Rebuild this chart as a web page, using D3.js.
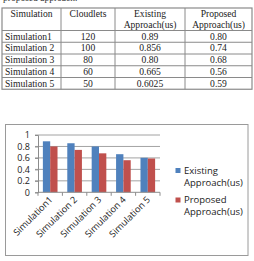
<!DOCTYPE html>
<html><head><meta charset="utf-8">
<script src="https://cdn.jsdelivr.net/npm/d3@7"></script>
<style>body{margin:0;background:#fff}svg{display:block}</style>
</head><body>
<script>
const simulations = ["Simulation1","Simulation 2","Simulation 3","Simulation 4","Simulation 5"];
const cloudlets = ["120","100","80","60","50"];
const existingText = ["0.89","0.856","0.80","0.665","0.6025"];
const proposedText = ["0.80","0.74","0.68","0.56","0.59"];
const existing = [0.89,0.856,0.80,0.665,0.6025];
const proposed = [0.80,0.74,0.68,0.56,0.59];
const seriesNames = ["Existing Approach(us)","Proposed Approach(us)"];
const yTicks = [0,0.2,0.4,0.6,0.8,1];
const headers = [["Simulation"],["Cloudlets"],["Existing","Approach(us)"],["Proposed","Approach(us)"]];

const W=254,H=261;
const svg=d3.select("body").append("svg").attr("width",W).attr("height",H);

// cut-off caption at top (only the bottom sliver is visible)
svg.append("text").attr("x",3).attr("y",0.8).attr("font-family","Liberation Serif").attr("font-size",9.5).attr("fill","#333").text("proposed approach.");

// ---- table ----
const colX=[2,61,115,185,252];
const tTop=8, headH=22.5, rowH=11.75;
const tg=svg.append("g");
const rowY=d3.range(simulations.length+1).map(i=>tTop+headH+i*rowH);
const lineC="#8a8a8a";
tg.append("rect").attr("x",colX[0]).attr("y",tTop).attr("width",colX[4]-colX[0]).attr("height",rowY[rowY.length-1]-tTop).attr("fill","none").attr("stroke",lineC).attr("stroke-width",1.2);
colX.slice(1,4).forEach(x=>tg.append("line").attr("x1",x).attr("x2",x).attr("y1",tTop).attr("y2",rowY[rowY.length-1]).attr("stroke",lineC));
rowY.slice(0,-1).forEach(y=>tg.append("line").attr("x1",colX[0]).attr("x2",colX[4]).attr("y1",y).attr("y2",y).attr("stroke",lineC));
const tf={"font-family":"Liberation Serif","font-size":9.6,"fill":"#222"};
headers.forEach((h,i)=>{
  const cx=(colX[i]+colX[i+1])/2;
  h.forEach((s,j)=>{
    const t=tg.append("text").attr("x",cx).attr("y",tTop+9+j*11).attr("text-anchor","middle").text(s);
    Object.entries(tf).forEach(([k,v])=>t.attr(k,v));
  });
});
simulations.forEach((s,r)=>{
  const y=rowY[r]+rowH/2+3.3;
  const cells=[s,cloudlets[r],existingText[r],proposedText[r]];
  cells.forEach((c,i)=>{
    const t=tg.append("text").attr("y",y).text(c);
    if(i===0) t.attr("x",colX[0]+3).attr("text-anchor","start");
    else t.attr("x",(colX[i]+colX[i+1])/2).attr("text-anchor","middle");
    Object.entries(tf).forEach(([k,v])=>t.attr(k,v));
  });
});

// ---- chart ----
svg.append("rect").attr("x",5.5).attr("y",124.5).attr("width",242.5).attr("height",131).attr("fill","#fff").attr("stroke","#9a9a9a").attr("stroke-width",1);
const x0=38, x1=160, yTop=135, yBot=192.3;
const x=d3.scaleBand().domain(simulations).range([x0,x1]).paddingInner(0.4).paddingOuter(0.2);
const xs=d3.scaleBand().domain([0,1]).range([0,x.bandwidth()]);
const y=d3.scaleLinear().domain([0,1]).range([yBot,yTop]);
const cf="Open Sans";
const g=svg.append("g");
// gridlines
g.selectAll(".grid").data(yTicks.filter(d=>d>0)).join("line").attr("x1",x0-3).attr("x2",x1).attr("y1",d=>y(d)).attr("y2",d=>y(d)).attr("stroke","#8c8c8c").attr("stroke-width",0.8);
// y axis
const ya=d3.axisLeft(y).tickValues(yTicks).tickSize(3).tickFormat(d=>d3.format("")(d));
const yag=g.append("g").attr("transform",`translate(${x0},0)`).call(ya);
yag.select(".domain").attr("stroke","#8c8c8c");
yag.selectAll(".tick line").attr("stroke","#8c8c8c");
yag.selectAll("text").attr("font-family",cf).attr("font-size",9).attr("fill","#222").attr("dx",-2);
// bars
const colors=["#4f81bd","#c0504d"];
const data=simulations.map((s,i)=>({s,vals:[existing[i],proposed[i]]}));
const gg=g.selectAll(".grp").data(data).join("g").attr("transform",d=>`translate(${x(d.s)},0)`);
gg.selectAll("rect").data(d=>d.vals.map((v,k)=>({v,k}))).join("rect")
  .attr("x",d=>xs(d.k)).attr("width",xs.bandwidth()).attr("y",d=>y(d.v)).attr("height",d=>yBot-y(d.v)).attr("fill",d=>colors[d.k]);
// x axis
const step=(x1-x0)/simulations.length;
g.append("line").attr("x1",x0).attr("x2",x1).attr("y1",yBot).attr("y2",yBot).attr("stroke","#8c8c8c");
d3.range(simulations.length+1).forEach(i=>g.append("line").attr("x1",x0+i*step).attr("x2",x0+i*step).attr("y1",yBot).attr("y2",yBot+3.5).attr("stroke","#8c8c8c"));
g.selectAll(".xl").data(simulations).join("text")
  .attr("transform",(d,i)=>`translate(${x0+(i+0.5)*step+3},${yBot+8}) rotate(-45)`)
  .attr("text-anchor","end").attr("font-family",cf).attr("font-size",9.2).attr("fill","#222").text(d=>d);
// legend
const leg=[["Existing","Approach(us)"],["Proposed","Approach(us)"]];
leg.forEach((l,i)=>{
  const ly=170.5+i*29.5;
  svg.append("rect").attr("x",175.5).attr("y",ly-2.5).attr("width",5).attr("height",5).attr("fill",colors[i]);
  l.forEach((s,j)=>svg.append("text").attr("x",184).attr("y",ly+3.3+j*12).attr("font-family",cf).attr("font-size",9.5).attr("fill","#222").text(s));
});
</script>
</body></html>
